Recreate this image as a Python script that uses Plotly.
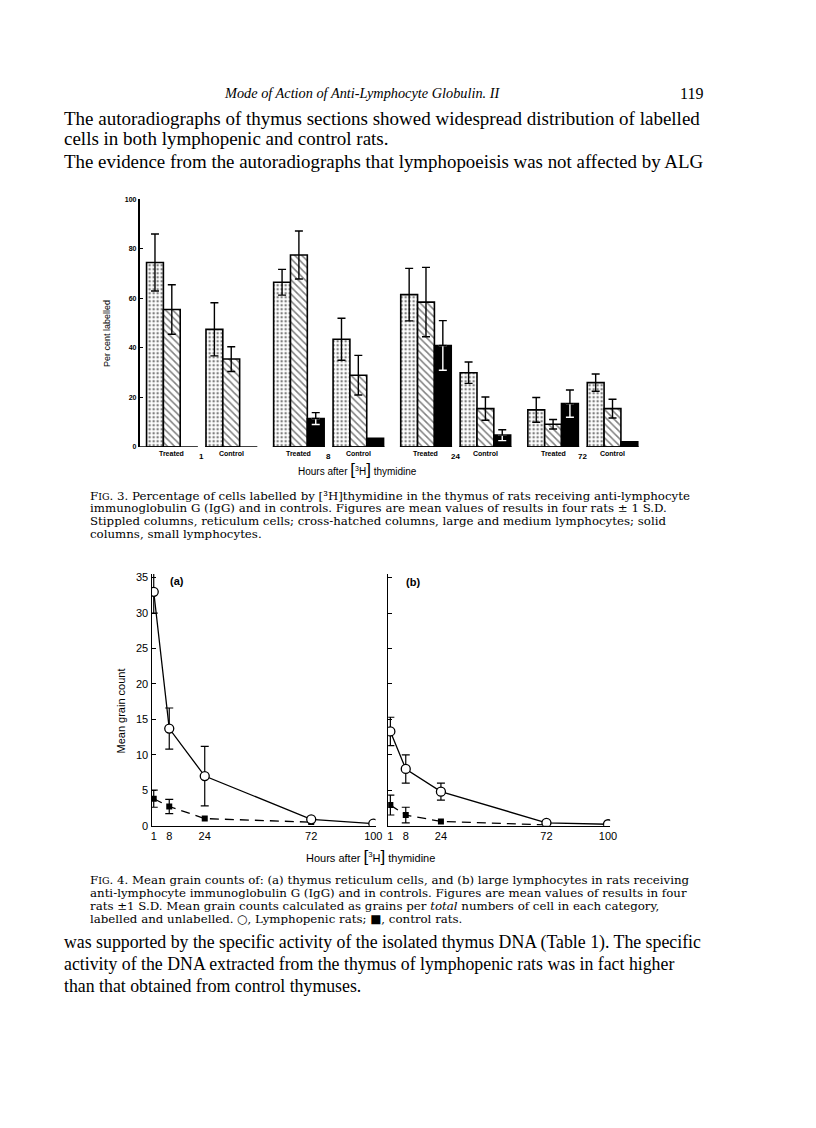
import plotly.graph_objects as go

W, H = 816, 1128
def fx(px): return px / W
def fy(py): return 1 - py / H

# ---------------- Fig. 3 data (per cent labelled) ----------------
times = ["1", "8", "24", "72"]
conditions = ["Treated", "Control"]
ret_treated = [74.5, 66.5, 61.5, 15.0]
ret_treated_sd = [11.5, 5.2, 10.6, 5.0]
ret_control = [47.5, 43.5, 30.0, 26.0]
ret_control_sd = [10.7, 8.5, 4.3, 3.5]
lg_treated = [55.5, 77.5, 58.5, 9.2]
lg_treated_sd = [10.0, 9.7, 14.0, 1.9]
lg_control = [35.5, 29.0, 15.5, 15.5]
lg_control_sd = [5.0, 8.0, 4.7, 3.8]
sm_treated = [None, 11.5, 41.0, 17.5]
sm_treated_sd = [None, 2.4, 10.0, 5.5]
sm_control = [None, 3.5, 4.8, 2.1]
sm_control_sd = [None, None, 2.2, None]
pct_ticks = [0, 20, 40, 60, 80, 100]

# ---------------- Fig. 4 data (mean grain count) ----------------
hours = [1, 8, 24, 72, 100]
ctrl_hours = [1, 8, 24, 72]
a_lymph = [33.0, 13.7, 7.0, 0.9, 0.3]
a_lymph_sd = [3.0, 2.9, 4.2, None, None]
a_ctrl = [3.8, 2.7, 1.0, 0.5]
a_ctrl_sd = [1.2, 1.0, None, None]
b_lymph = [13.3, 8.0, 4.8, 0.4, 0.2]
b_lymph_sd = [2.0, 2.0, 1.2, None, None]
b_ctrl = [2.9, 1.5, 0.6, 0.1]
b_ctrl_sd = [1.4, 1.1, None, None]
grain_ticks = [0, 5, 10, 15, 20, 25, 30, 35]

fig = go.Figure()

# ---------- bar chart geometry (x axis in bar-width units) ----------
TIME_STEP = 7.55
CTRL_OFF = 3.53
def group_start(i, c):
    return i * TIME_STEP + c * CTRL_OFF

series = [
    ("reticulum", ret_treated, ret_treated_sd, ret_control, ret_control_sd, 0,
     dict(shape=".", fgcolor="black", bgcolor="white", size=4, solidity=0.3)),
    ("large", lg_treated, lg_treated_sd, lg_control, lg_control_sd, 1,
     dict(shape="\\", fgcolor="black", bgcolor="white", size=5, solidity=0.3)),
    ("small", sm_treated, sm_treated_sd, sm_control, sm_control_sd, 2, None),
]

for name, tv, tsd, cv, csd, k, pat in series:
    xs, ys, sds = [], [], []
    for c, (vals, sdv) in enumerate([(tv, tsd), (cv, csd)]):
        for i in range(len(times)):
            if vals[i] is None:
                continue
            xs.append(group_start(i, c) + k + 0.5)
            ys.append(vals[i])
            sds.append(sdv[i])
    solid = pat is None
    marker = dict(color="black" if solid else "white", line=dict(color="black", width=1.6))
    if not solid:
        marker["pattern"] = pat
    fig.add_trace(go.Bar(x=xs, y=ys, width=1.0, xaxis="x", yaxis="y", marker=marker,
                         showlegend=False, hoverinfo="skip"))
    ex = [x for x, s in zip(xs, sds) if s is not None]
    ey = [y for y, s in zip(ys, sds) if s is not None]
    es = [s for s in sds if s is not None]
    if solid:
        fig.add_trace(go.Scatter(
            x=ex, y=ey, mode="markers", xaxis="x", yaxis="y",
            marker=dict(size=1, color="rgba(0,0,0,0)"),
            error_y=dict(type="data", symmetric=False, array=[0]*len(es),
                         arrayminus=es, color="white", thickness=1.4, width=4),
            showlegend=False, hoverinfo="skip"))
        fig.add_trace(go.Scatter(
            x=ex, y=ey, mode="markers", xaxis="x", yaxis="y",
            marker=dict(size=1, color="rgba(0,0,0,0)"),
            error_y=dict(type="data", symmetric=False, array=es,
                         arrayminus=[0]*len(es), color="black", thickness=1.4, width=4),
            showlegend=False, hoverinfo="skip"))
    else:
        fig.add_trace(go.Scatter(
            x=ex, y=ey, mode="markers", xaxis="x", yaxis="y",
            marker=dict(size=1, color="rgba(0,0,0,0)"),
            error_y=dict(type="data", array=es, color="black", thickness=1.4, width=4),
            showlegend=False, hoverinfo="skip"))

X0 = -7 / 17
shapes = []
annotations = []
for i in range(len(times)):
    for c in range(2):
        s = group_start(i, c)
        x_start = X0 if (i == 0 and c == 0) else s - 0.05
        shapes.append(dict(type="line", xref="x", yref="y", x0=x_start, x1=s + 3.05,
                           y0=0, y1=0, line=dict(color="black", width=1.5)))
        annotations.append(dict(x=s + 1.5, y=fy(454), xref="x", yref="paper",
                                text=conditions[c], showarrow=False,
                                font=dict(family="Liberation Sans", size=7, color="black", weight="bold")))
    annotations.append(dict(x=group_start(i, 0) + 3.27, y=fy(457), xref="x", yref="paper",
                            text=times[i], showarrow=False,
                            font=dict(family="Liberation Sans", size=8, color="black", weight="bold")))

# ---------- line charts ----------
def add_panel(xa, ya, lymph, lymph_sd, ctrl, ctrl_sd):
    fig.add_trace(go.Scatter(
        x=ctrl_hours, y=ctrl, mode="lines", xaxis=xa, yaxis=ya,
        line=dict(color="black", width=1.3, dash="9px,6px"),
        showlegend=False, hoverinfo="skip"))
    fig.add_trace(go.Scatter(
        x=hours, y=lymph, mode="lines", xaxis=xa, yaxis=ya,
        line=dict(color="black", width=1.3), showlegend=False, hoverinfo="skip"))
    for hx, vals, sds in [(hours, lymph, lymph_sd), (ctrl_hours, ctrl, ctrl_sd)]:
        ex = [h for h, s in zip(hx, sds) if s is not None]
        ey = [v for v, s in zip(vals, sds) if s is not None]
        es = [s for s in sds if s is not None]
        fig.add_trace(go.Scatter(
            x=ex, y=ey, mode="markers", xaxis=xa, yaxis=ya,
            marker=dict(size=1, color="rgba(0,0,0,0)"),
            error_y=dict(type="data", array=es, color="black", thickness=1.2, width=4),
            showlegend=False, hoverinfo="skip"))
    fig.add_trace(go.Scatter(
        x=ctrl_hours, y=ctrl, mode="markers", xaxis=xa, yaxis=ya,
        marker=dict(symbol="square", size=6, color="black"),
        showlegend=False, hoverinfo="skip"))
    fig.add_trace(go.Scatter(
        x=hours, y=lymph, mode="markers", xaxis=xa, yaxis=ya,
        marker=dict(symbol="circle", size=9, color="white", line=dict(color="black", width=1.3)),
        showlegend=False, hoverinfo="skip"))

add_panel("x2", "y2", a_lymph, a_lymph_sd, a_ctrl, a_ctrl_sd)
add_panel("x3", "y3", b_lymph, b_lymph_sd, b_ctrl, b_ctrl_sd)

tickfont_small = dict(family="Liberation Sans", size=7, color="black", weight="bold")
tickfont_line = dict(family="Liberation Sans", size=11, color="black")

fig.update_layout(
    width=W, height=H, margin=dict(l=0, r=0, t=0, b=0),
    paper_bgcolor="white", plot_bgcolor="rgba(0,0,0,0)",
    barmode="overlay", showlegend=False,
    xaxis=dict(domain=[fx(140), fx(660)], range=[X0, (660 - 147) / 17], anchor="y",
               showline=False, showgrid=False, zeroline=False, showticklabels=False, ticks=""),
    yaxis=dict(domain=[fy(447), fy(197)], range=[0, 100], anchor="x",
               showline=True, linecolor="black", linewidth=1.5, showgrid=False, zeroline=False,
               tickvals=pct_ticks, ticks="inside", ticklen=4, tickwidth=1.2, tickcolor="black",
               tickfont=tickfont_small),
    xaxis2=dict(domain=[fx(152), fx(152 + 2.24 * 101)], range=[0, 101], anchor="y2",
                showline=True, linecolor="black", linewidth=1.3, showgrid=False, zeroline=False,
                tickvals=hours, ticks="", tickfont=tickfont_line),
    yaxis2=dict(domain=[fy(829), fy(829 - 7.15 * 35.5)], range=[0, 35.5], anchor="x2",
                showline=True, linecolor="black", linewidth=1.3, showgrid=False, zeroline=False,
                tickvals=grain_ticks, ticks="inside", ticklen=4, tickwidth=1.2, tickcolor="black",
                tickfont=tickfont_line),
    xaxis3=dict(domain=[fx(391), fx(391 + 2.22 * 101)], range=[0, 101], anchor="y3",
                showline=True, linecolor="black", linewidth=1.3, showgrid=False, zeroline=False,
                tickvals=hours, ticks="", tickfont=tickfont_line),
    yaxis3=dict(domain=[fy(829), fy(829 - 7.15 * 35.5)], range=[0, 35.5], anchor="x3",
                showline=True, linecolor="black", linewidth=1.3, showgrid=False, zeroline=False,
                tickvals=grain_ticks, ticks="inside", ticklen=4, tickwidth=1.2, tickcolor="black",
                showticklabels=False),
)

serif = "Liberation Serif"
cap = "DejaVu Serif"
def txt(x, y, text, size, family=serif, xanchor="left", italic=False, angle=0, weight="normal"):
    annotations.append(dict(x=fx(x), y=fy(y), xref="paper", yref="paper", text=text,
                            showarrow=False, xanchor=xanchor, yanchor="middle", textangle=angle,
                            font=dict(family=family, size=size, color="black",
                                      style="italic" if italic else "normal", weight=weight)))

# header & body text
txt(365, 90, "Mode of Action of Anti-Lymphocyte Globulin. II", 14.3, xanchor="center", italic=True)
txt(711, 90, "119", 16, xanchor="right")
txt(62, 116, "The autoradiographs of thymus sections showed widespread distribution of labelled", 19)
txt(62, 136, "cells in both lymphopenic and control rats.", 19)
txt(62, 159, "The evidence from the autoradiographs that lymphopoeisis was not affected by ALG", 18.9)

# Fig 3 labels
txt(107, 332, "Per cent labelled", 9, family="Liberation Sans", xanchor="center", angle=-90)
br = "<span style='font-size:17px'>[</span>"
brc = "<span style='font-size:17px'>]</span>"
txt(360, 470, "Hours after " + br + "<sup>3</sup>H" + brc + " thymidine", 10,
    family="Liberation Sans", xanchor="center")
sc = "<span style='font-size:9.5px'>IG</span>"
CS = 11.8
txt(88, 496, "F" + sc + ". 3. Percentage of cells labelled by [³H]thymidine in the thymus of rats receiving anti-lymphocyte", CS, family=cap)
txt(88, 509, "immunoglobulin G (IgG) and in controls. Figures are mean values of results in four rats ± 1 S.D.", CS, family=cap)
txt(88, 522, "Stippled columns, reticulum cells; cross-hatched columns, large and medium lymphocytes; solid", CS, family=cap)
txt(88, 535, "columns, small lymphocytes.", CS, family=cap)

# Fig 4 labels
txt(121, 713, "Mean grain count", 11, family="Liberation Sans", xanchor="center", angle=-90)
txt(178, 582, "(a)", 11, family="Liberation Sans", xanchor="center", weight="bold")
txt(416, 583, "(b)", 11, family="Liberation Sans", xanchor="center", weight="bold")
txt(373, 860, "Hours after " + br + "<sup>3</sup>H" + brc + " thymidine", 11,
    family="Liberation Sans", xanchor="center")
txt(88, 884, "F" + sc + ". 4. Mean grain counts of: (a) thymus reticulum cells, and (b) large lymphocytes in rats receiving", CS, family=cap)
txt(88, 897, "anti-lymphocyte immunoglobulin G (IgG) and in controls. Figures are mean values of results in four", CS, family=cap)
txt(88, 910, "rats ±1 S.D. Mean grain counts calculated as grains per <i>total</i> numbers of cell in each category,", CS, family=cap)
txt(88, 923, "labelled and unlabelled. ○, Lymphopenic rats; ■, control rats.", CS, family=cap)

txt(62, 947, "was supported by the specific activity of the isolated thymus DNA (Table 1). The specific", 17.8)
txt(62, 969, "activity of the DNA extracted from the thymus of lymphopenic rats was in fact higher", 17.8)
txt(62, 991, "than that obtained from control thymuses.", 17.8)

fig.update_layout(shapes=shapes, annotations=annotations)
fig.write_html("out.html", config={"displayModeBar": False},
               post_script="document.body.style.margin='0px';")
